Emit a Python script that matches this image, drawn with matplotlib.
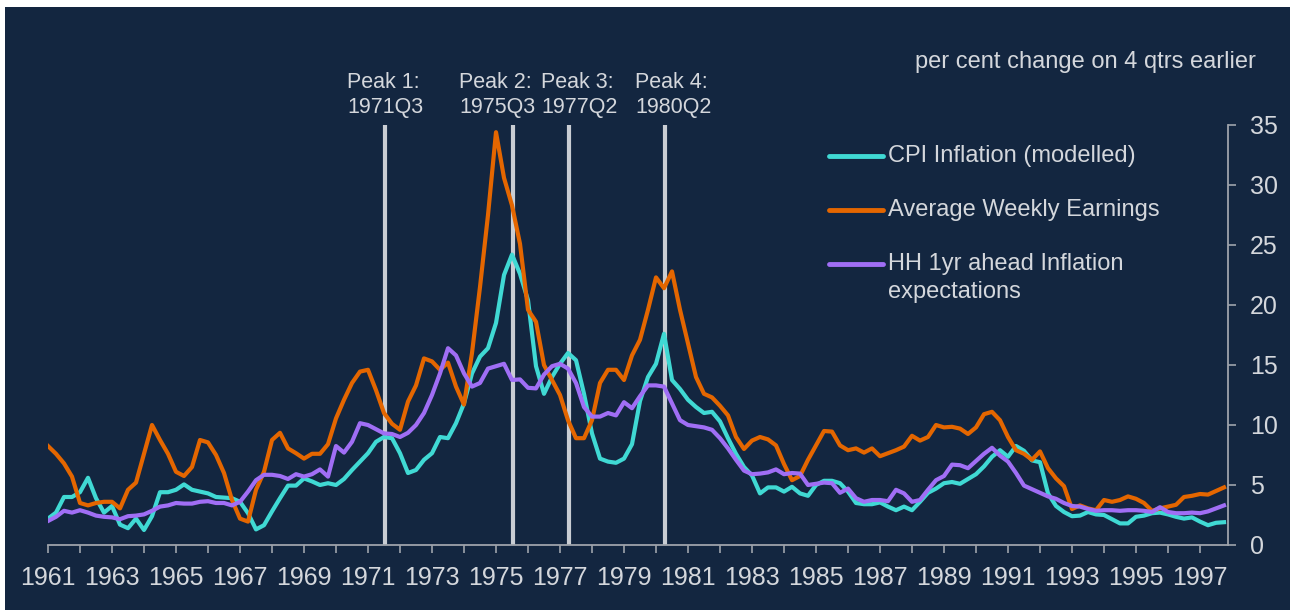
import numpy as np
import matplotlib.pyplot as plt
from matplotlib.lines import Line2D
from matplotlib.patches import Rectangle
from matplotlib.ticker import MultipleLocator, FixedLocator

plt.rcParams['font.family'] = ['Liberation Sans', 'DejaVu Sans']

# quarterly data, 1961Q1 - 1997Q4 (per cent change on 4 qtrs earlier)
start_year = 1961

cpi = [2.2, 2.7, 4.0, 4.0, 4.4, 5.6, 3.9, 2.7, 3.25, 1.7, 1.4, 2.2,
       1.25, 2.4, 4.4, 4.4, 4.6, 5.05, 4.6, 4.45, 4.3, 4.0, 3.95, 3.9,
       3.6, 2.65, 1.3, 1.65, 2.8, 3.9, 4.95, 4.95, 5.55, 5.3, 5.0, 5.15,
       5.0, 5.5, 6.25, 6.95, 7.65, 8.6, 9.0, 8.9, 7.65, 6.0, 6.25, 7.1,
       7.65, 9.0, 8.9, 10.15, 11.8, 14.3, 15.7, 16.4, 18.5, 22.5, 24.2, 22.6,
       20.4, 14.9, 12.6, 14.0, 15.1, 16.0, 15.4, 12.6, 9.3, 7.2, 6.95, 6.85,
       7.2, 8.4, 12.0, 14.0, 15.1, 17.6, 13.75, 13.0,
       12.1, 11.5, 11.0, 11.1, 10.3, 8.9, 7.6, 6.5, 5.8, 4.3, 4.8, 4.8,
       4.45, 4.85, 4.3, 4.1, 5.0, 5.35, 5.35, 5.15, 4.45, 3.5, 3.4, 3.4,
       3.55, 3.2, 2.9, 3.2, 2.9, 3.6, 4.35, 4.7, 5.15,
       5.25, 5.1, 5.5, 5.9, 6.55, 7.35, 7.9, 7.35, 8.25, 7.85, 7.05, 6.9,
       4.3, 3.25, 2.75, 2.4, 2.45, 2.75, 2.55, 2.5, 2.15, 1.8, 1.8, 2.35,
       2.45, 2.65, 2.7, 2.55, 2.35, 2.2, 2.3, 1.95, 1.65, 1.85, 1.9]

awe = [8.25, 7.6, 6.8, 5.7, 3.5, 3.3, 3.5, 3.6, 3.6, 3.05, 4.6, 5.2,
       7.6, 10.0, 8.75, 7.6, 6.1, 5.75, 6.5, 8.75, 8.55, 7.5, 6.0, 3.75,
       2.2, 1.95, 4.6, 6.1, 8.75, 9.35, 8.05, 7.65, 7.2, 7.6, 7.6, 8.4,
       10.55, 12.1, 13.5, 14.45, 14.6, 12.9, 11.0, 10.1, 9.6, 11.95, 13.3, 15.55,
       15.3, 14.6, 15.2, 13.2, 11.7, 16.0, 21.5, 27.5, 34.4, 30.6, 28.3, 25.1,
       19.6, 18.6, 15.0, 13.75, 12.5, 10.4, 8.9, 8.9, 10.4, 13.5, 14.6, 14.6,
       13.75, 15.8, 17.1, 19.6, 22.3, 21.4, 22.8, 19.6,
       16.8, 14.0, 12.6, 12.3, 11.6, 10.8, 9.0, 8.0, 8.7, 9.0, 8.8, 8.3,
       6.75, 5.4, 5.75, 7.1, 8.3, 9.5, 9.45, 8.3, 7.9, 8.05, 7.7, 8.05,
       7.4, 7.65, 7.9, 8.2, 9.1, 8.7, 9.0, 10.0, 9.8,
       9.85, 9.7, 9.25, 9.8, 10.9, 11.1, 10.4, 9.0, 7.9, 7.6, 7.1, 7.8,
       6.4, 5.55, 4.9, 3.0, 3.3, 3.05, 2.9, 3.75, 3.6, 3.75, 4.05, 3.85,
       3.5, 2.85, 3.05, 3.2, 3.35, 4.0, 4.1, 4.25, 4.2, 4.5, 4.8]

hh = [2.0, 2.35, 2.85, 2.7, 2.9, 2.7, 2.45, 2.35, 2.3, 2.15, 2.4, 2.45,
      2.55, 2.85, 3.2, 3.3, 3.5, 3.45, 3.45, 3.6, 3.65, 3.5, 3.5, 3.3,
      3.6, 4.45, 5.4, 5.85, 5.85, 5.75, 5.5, 5.9, 5.7, 5.9, 6.3, 5.7,
      8.25, 7.7, 8.6, 10.15, 10.0, 9.65, 9.3, 9.25, 9.0, 9.35, 10.0, 11.0,
      12.5, 14.3, 16.4, 15.8, 14.3, 13.2, 13.5, 14.7, 14.9, 15.1, 13.75, 13.8,
      13.1, 13.05, 14.2, 14.9, 15.1, 14.7, 13.5, 11.5, 10.7, 10.7, 11.0, 10.8,
      11.9, 11.4, 12.4, 13.3, 13.3, 13.2, 11.8, 10.4,
      10.0, 9.9, 9.8, 9.6, 8.9, 8.05, 7.1, 6.2, 5.9, 5.95, 6.05, 6.3,
      5.9, 6.0, 5.95, 5.0, 5.1, 5.2, 5.15, 4.35, 4.7, 3.9, 3.6, 3.75,
      3.75, 3.65, 4.6, 4.3, 3.6, 3.75, 4.6, 5.4, 5.75,
      6.7, 6.65, 6.4, 7.0, 7.6, 8.1, 7.45, 6.95, 6.0, 4.95, 4.65, 4.35,
      4.05, 3.85, 3.5, 3.25, 3.2, 3.0, 2.85, 2.9, 2.9, 2.85, 2.9, 2.9,
      2.85, 2.75, 3.15, 2.75, 2.65, 2.65, 2.7, 2.65, 2.8, 3.05, 3.3]

series_names = ["CPI Inflation (modelled)", "Average Weekly Earnings",
                "HH 1yr ahead Inflation\nexpectations"]
peak_names = ["Peak 1:", "Peak 2:", "Peak 3:", "Peak 4:"]
peak_quarters = ["1971Q3", "1975Q3", "1977Q2", "1980Q2"]
year_labels = list(range(1961, 1998, 2))

navy = "#132640"
text_col = "#D4D7DC"
line_cols = ["#40D9D4", "#E46600", "#A06EF5"]

W, H = 1290, 610
fig = plt.figure(figsize=(W / 100, H / 100), dpi=100, facecolor="white")
fig.add_artist(Rectangle((5 / W, 0), 1, 1 - 7 / H, transform=fig.transFigure,
                         facecolor=navy, edgecolor="none", zorder=-10))

ax = fig.add_axes([48 / W, 65 / H, 1180 / W, 420 / H])
ax.set_facecolor(navy)

x = start_year + np.arange(len(cpi)) / 4

# peak markers
peak_x = [int(q[:4]) + (int(q[-1]) - 1) / 4 + 0.03 for q in peak_quarters]
for px in peak_x:
    ax.axvline(px, color="#C9CDD3", lw=3, zorder=1)

for vals, col in zip([cpi, awe, hh], line_cols):
    ax.plot(x, vals, color=col, lw=3, zorder=3, solid_joinstyle="round")

ax.set_xlim(1961, 1997.875)
ax.set_ylim(0, 35)

ax.yaxis.tick_right()
ax.yaxis.set_major_locator(MultipleLocator(5))
ax.xaxis.set_major_locator(FixedLocator(year_labels))
ax.xaxis.set_minor_locator(MultipleLocator(1))
ax.set_xticklabels([str(y) for y in year_labels])

for s in ["top", "left"]:
    ax.spines[s].set_visible(False)
for s in ["bottom", "right"]:
    ax.spines[s].set_color("#9EA3AB")
    ax.spines[s].set_linewidth(1.3)

ax.tick_params(axis="x", which="both", direction="out", length=6, width=1.2,
               color="#9EA3AB", labelcolor=text_col, labelsize=18, pad=9)
ax.tick_params(axis="y", direction="out", length=6, width=1.2,
               color="#9EA3AB", labelcolor=text_col, labelsize=18, pad=10)

# peak labels above the plot
label_left = [347, 459, 541, 635]
for px_left, name, q in zip(label_left, peak_names, peak_quarters):
    fig.text(px_left / W, 1 - 82 / H, name, color=text_col, fontsize=15.5,
             ha="left", va="center")
    fig.text(px_left / W, 1 - 108 / H, q, color=text_col, fontsize=15.5,
             ha="left", va="center")

fig.text(1256 / W, 1 - 62 / H, "per cent change on 4 qtrs earlier",
         color=text_col, fontsize=17, ha="right", va="center")

# legend
leg_y = [156, 210, 264]
for yy, name, col in zip(leg_y, series_names, line_cols):
    fig.add_artist(Line2D([829 / W, 883 / W], [1 - yy / H, 1 - yy / H],
                          transform=fig.transFigure, color=col, lw=3.5,
                          solid_capstyle="round"))
    lines = name.split("\n")
    for k, ln in enumerate(lines):
        fig.text(888 / W, 1 - (yy + 28 * k) / H, ln, color=text_col,
                 fontsize=17, ha="left", va="center")

fig.savefig("out.png", dpi=100, facecolor="white")
